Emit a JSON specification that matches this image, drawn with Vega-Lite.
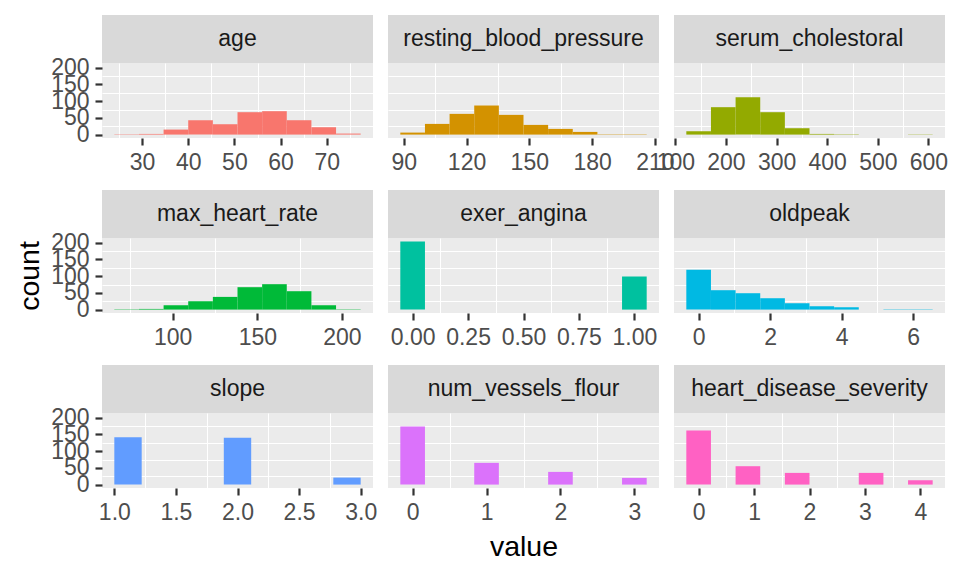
{
  "$schema": "https://vega.github.io/schema/vega-lite/v6.json",
  "background": "white",
  "padding": {"left": 15, "top": 15, "right": 5, "bottom": 5},
  "config": {
    "font": "Liberation Sans",
    "view": {"stroke": null},
    "axis": {"domain": false, "grid": true, "gridColor": "#FFFFFF", "gridWidth": 2.2, "gridOpacity": 1, "tickColor": "#333333", "tickWidth": 2.2, "tickSize": 7, "labelColor": "#4D4D4D", "labelFontSize": 23, "labelFont": "Liberation Sans", "labelPadding": 6, "labelOverlap": false, "labelFlush": false, "labelBound": false, "titleFont": "Liberation Sans", "titleFontSize": 28.5, "titleFontWeight": "normal", "titleColor": "#000000"}
  },
  "datasets": {
    "strips": [
      {"v": "age"}, {"v": "resting_blood_pressure"}, {"v": "serum_cholestoral"},
      {"v": "max_heart_rate"}, {"v": "exer_angina"}, {"v": "oldpeak"},
      {"v": "slope"}, {"v": "num_vessels_flour"}, {"v": "heart_disease_severity"}
    ],
    "hist": [
      {"v": "age", "x0": 24, "x1": 29.3333, "n": 1},
      {"v": "age", "x0": 29.3333, "x1": 34.6667, "n": 2},
      {"v": "age", "x0": 34.6667, "x1": 40, "n": 15},
      {"v": "age", "x0": 40, "x1": 45.3333, "n": 43},
      {"v": "age", "x0": 45.3333, "x1": 50.6667, "n": 31},
      {"v": "age", "x0": 50.6667, "x1": 56, "n": 67},
      {"v": "age", "x0": 56, "x1": 61.3333, "n": 70},
      {"v": "age", "x0": 61.3333, "x1": 66.6667, "n": 43},
      {"v": "age", "x0": 66.6667, "x1": 72, "n": 22},
      {"v": "age", "x0": 72, "x1": 77.3333, "n": 3},
      {"v": "resting_blood_pressure", "x0": 88.3333, "x1": 100.1111, "n": 6},
      {"v": "resting_blood_pressure", "x0": 100.1111, "x1": 111.8889, "n": 32},
      {"v": "resting_blood_pressure", "x0": 111.8889, "x1": 123.6667, "n": 62},
      {"v": "resting_blood_pressure", "x0": 123.6667, "x1": 135.4444, "n": 87},
      {"v": "resting_blood_pressure", "x0": 135.4444, "x1": 147.2222, "n": 59},
      {"v": "resting_blood_pressure", "x0": 147.2222, "x1": 159, "n": 29},
      {"v": "resting_blood_pressure", "x0": 159, "x1": 170.7778, "n": 17},
      {"v": "resting_blood_pressure", "x0": 170.7778, "x1": 182.5556, "n": 8},
      {"v": "resting_blood_pressure", "x0": 182.5556, "x1": 194.3333, "n": 1},
      {"v": "resting_blood_pressure", "x0": 194.3333, "x1": 206.1111, "n": 1},
      {"v": "serum_cholestoral", "x0": 121.6667, "x1": 170.3333, "n": 10},
      {"v": "serum_cholestoral", "x0": 170.3333, "x1": 219, "n": 82},
      {"v": "serum_cholestoral", "x0": 219, "x1": 267.6667, "n": 112},
      {"v": "serum_cholestoral", "x0": 267.6667, "x1": 316.3333, "n": 67},
      {"v": "serum_cholestoral", "x0": 316.3333, "x1": 365, "n": 19},
      {"v": "serum_cholestoral", "x0": 365, "x1": 413.6667, "n": 2},
      {"v": "serum_cholestoral", "x0": 413.6667, "x1": 462.3333, "n": 1},
      {"v": "serum_cholestoral", "x0": 559.6667, "x1": 608.3333, "n": 1},
      {"v": "max_heart_rate", "x0": 65.5, "x1": 80.0556, "n": 1},
      {"v": "max_heart_rate", "x0": 80.0556, "x1": 94.6111, "n": 2},
      {"v": "max_heart_rate", "x0": 94.6111, "x1": 109.1667, "n": 13},
      {"v": "max_heart_rate", "x0": 109.1667, "x1": 123.7222, "n": 25},
      {"v": "max_heart_rate", "x0": 123.7222, "x1": 138.2778, "n": 38},
      {"v": "max_heart_rate", "x0": 138.2778, "x1": 152.8333, "n": 67},
      {"v": "max_heart_rate", "x0": 152.8333, "x1": 167.3889, "n": 76},
      {"v": "max_heart_rate", "x0": 167.3889, "x1": 181.9444, "n": 55},
      {"v": "max_heart_rate", "x0": 181.9444, "x1": 196.5, "n": 13},
      {"v": "max_heart_rate", "x0": 196.5, "x1": 211.0556, "n": 1},
      {"v": "exer_angina", "x0": -0.0556, "x1": 0.0556, "n": 204},
      {"v": "exer_angina", "x0": 0.9444, "x1": 1.0556, "n": 99},
      {"v": "oldpeak", "x0": -0.3444, "x1": 0.3444, "n": 119},
      {"v": "oldpeak", "x0": 0.3444, "x1": 1.0333, "n": 58},
      {"v": "oldpeak", "x0": 1.0333, "x1": 1.7222, "n": 49},
      {"v": "oldpeak", "x0": 1.7222, "x1": 2.4111, "n": 34},
      {"v": "oldpeak", "x0": 2.4111, "x1": 3.1, "n": 19},
      {"v": "oldpeak", "x0": 3.1, "x1": 3.7889, "n": 10},
      {"v": "oldpeak", "x0": 3.7889, "x1": 4.4778, "n": 7},
      {"v": "oldpeak", "x0": 5.1667, "x1": 5.8556, "n": 1},
      {"v": "oldpeak", "x0": 5.8556, "x1": 6.5444, "n": 1},
      {"v": "slope", "x0": 1, "x1": 1.2222, "n": 142},
      {"v": "slope", "x0": 1.8889, "x1": 2.1111, "n": 140},
      {"v": "slope", "x0": 2.7778, "x1": 3, "n": 21},
      {"v": "num_vessels_flour", "x0": -0.1667, "x1": 0.1667, "n": 174},
      {"v": "num_vessels_flour", "x0": 0.8333, "x1": 1.1667, "n": 65},
      {"v": "num_vessels_flour", "x0": 1.8333, "x1": 2.1667, "n": 38},
      {"v": "num_vessels_flour", "x0": 2.8333, "x1": 3.1667, "n": 20},
      {"v": "heart_disease_severity", "x0": -0.2222, "x1": 0.2222, "n": 162},
      {"v": "heart_disease_severity", "x0": 0.6667, "x1": 1.1111, "n": 55},
      {"v": "heart_disease_severity", "x0": 1.5556, "x1": 2, "n": 35},
      {"v": "heart_disease_severity", "x0": 2.8889, "x1": 3.3333, "n": 35},
      {"v": "heart_disease_severity", "x0": 3.7778, "x1": 4.2222, "n": 13}
    ]
  },
  "columns": 3,
  "align": "each",
  "bounds": "flush",
  "spacing": {"row": 0, "column": 15},
  "concat": [
    {"width": 271, "height": 48, "view": {"fill": "#D9D9D9", "stroke": null}, "data": {"name": "strips"}, "transform": [{"filter": "datum.v === 'age'"}], "mark": {"type": "text", "fontSize": 23, "color": "#1A1A1A", "align": "center", "baseline": "middle"}, "encoding": {"text": {"field": "v", "type": "nominal"}}},
    {"width": 271, "height": 48, "view": {"fill": "#D9D9D9", "stroke": null}, "data": {"name": "strips"}, "transform": [{"filter": "datum.v === 'resting_blood_pressure'"}], "mark": {"type": "text", "fontSize": 23, "color": "#1A1A1A", "align": "center", "baseline": "middle"}, "encoding": {"text": {"field": "v", "type": "nominal"}}},
    {"width": 271, "height": 48, "view": {"fill": "#D9D9D9", "stroke": null}, "data": {"name": "strips"}, "transform": [{"filter": "datum.v === 'serum_cholestoral'"}], "mark": {"type": "text", "fontSize": 23, "color": "#1A1A1A", "align": "center", "baseline": "middle"}, "encoding": {"text": {"field": "v", "type": "nominal"}}},

    {"width": 271, "height": 75, "view": {"fill": "#EBEBEB", "stroke": null}, "data": {"name": "hist"}, "transform": [{"filter": "datum.v === 'age'"}],
     "resolve": {"axis": {"x": "independent", "y": "independent"}},
     "layer": [
      {"mark": {"type": "rect", "opacity": 0}, "encoding": {
        "x": {"field": "x0", "type": "quantitative", "scale": {"domain": [21.3333, 80], "nice": false, "zero": false}, "axis": {"orient": "top", "values": [25, 35, 45, 55, 65, 75], "gridWidth": 1.1, "labels": false, "ticks": false, "title": null}},
        "x2": {"field": "x1"},
        "y": {"field": "n", "type": "quantitative", "scale": {"domain": [-10.2, 214.2], "nice": false, "zero": false}, "axis": {"orient": "right", "values": [25, 75, 125, 175], "gridWidth": 1.1, "labels": false, "ticks": false, "title": null}},
        "y2": {"datum": 0}}},
      {"mark": {"type": "rect", "color": "#F8766D"}, "encoding": {
        "x": {"field": "x0", "type": "quantitative", "axis": {"orient": "bottom", "values": [30, 40, 50, 60, 70], "title": null}},
        "x2": {"field": "x1"},
        "y": {"field": "n", "type": "quantitative", "axis": {"orient": "left", "values": [0, 50, 100, 150, 200], "title": null}},
        "y2": {"datum": 0}}}
     ]},
    {"width": 271, "height": 75, "view": {"fill": "#EBEBEB", "stroke": null}, "data": {"name": "hist"}, "transform": [{"filter": "datum.v === 'resting_blood_pressure'"}],
     "resolve": {"axis": {"x": "independent", "y": "independent"}},
     "layer": [
      {"mark": {"type": "rect", "opacity": 0}, "encoding": {
        "x": {"field": "x0", "type": "quantitative", "scale": {"domain": [82.4444, 212], "nice": false, "zero": false}, "axis": {"orient": "top", "values": [105, 135, 165, 195], "gridWidth": 1.1, "labels": false, "ticks": false, "title": null}},
        "x2": {"field": "x1"},
        "y": {"field": "n", "type": "quantitative", "scale": {"domain": [-10.2, 214.2], "nice": false, "zero": false}, "axis": {"orient": "right", "values": [25, 75, 125, 175], "gridWidth": 1.1, "labels": false, "ticks": false, "title": null}},
        "y2": {"datum": 0}}},
      {"mark": {"type": "rect", "color": "#D39200"}, "encoding": {
        "x": {"field": "x0", "type": "quantitative", "axis": {"orient": "bottom", "values": [90, 120, 150, 180, 210], "title": null}},
        "x2": {"field": "x1"},
        "y": {"field": "n", "type": "quantitative", "axis": {"orient": "left", "values": [0, 50, 100, 150, 200], "labels": false, "ticks": false, "title": null}},
        "y2": {"datum": 0}}}
     ]},
    {"width": 271, "height": 75, "view": {"fill": "#EBEBEB", "stroke": null}, "data": {"name": "hist"}, "transform": [{"filter": "datum.v === 'serum_cholestoral'"}],
     "resolve": {"axis": {"x": "independent", "y": "independent"}},
     "layer": [
      {"mark": {"type": "rect", "opacity": 0}, "encoding": {
        "x": {"field": "x0", "type": "quantitative", "scale": {"domain": [97.3333, 632.6667], "nice": false, "zero": false}, "axis": {"orient": "top", "values": [150, 250, 350, 450, 550], "gridWidth": 1.1, "labels": false, "ticks": false, "title": null}},
        "x2": {"field": "x1"},
        "y": {"field": "n", "type": "quantitative", "scale": {"domain": [-10.2, 214.2], "nice": false, "zero": false}, "axis": {"orient": "right", "values": [25, 75, 125, 175], "gridWidth": 1.1, "labels": false, "ticks": false, "title": null}},
        "y2": {"datum": 0}}},
      {"mark": {"type": "rect", "color": "#93AA00"}, "encoding": {
        "x": {"field": "x0", "type": "quantitative", "axis": {"orient": "bottom", "values": [100, 200, 300, 400, 500, 600], "title": null}},
        "x2": {"field": "x1"},
        "y": {"field": "n", "type": "quantitative", "axis": {"orient": "left", "values": [0, 50, 100, 150, 200], "labels": false, "ticks": false, "title": null}},
        "y2": {"datum": 0}}}
     ]},

    {"width": 271, "height": 52, "data": {"values": []}, "mark": {"type": "point", "opacity": 0}},
    {"width": 271, "height": 52, "data": {"values": []}, "mark": {"type": "point", "opacity": 0}},
    {"width": 271, "height": 52, "data": {"values": []}, "mark": {"type": "point", "opacity": 0}},

    {"width": 271, "height": 48, "view": {"fill": "#D9D9D9", "stroke": null}, "data": {"name": "strips"}, "transform": [{"filter": "datum.v === 'max_heart_rate'"}], "mark": {"type": "text", "fontSize": 23, "color": "#1A1A1A", "align": "center", "baseline": "middle"}, "encoding": {"text": {"field": "v", "type": "nominal"}}},
    {"width": 271, "height": 48, "view": {"fill": "#D9D9D9", "stroke": null}, "data": {"name": "strips"}, "transform": [{"filter": "datum.v === 'exer_angina'"}], "mark": {"type": "text", "fontSize": 23, "color": "#1A1A1A", "align": "center", "baseline": "middle"}, "encoding": {"text": {"field": "v", "type": "nominal"}}},
    {"width": 271, "height": 48, "view": {"fill": "#D9D9D9", "stroke": null}, "data": {"name": "strips"}, "transform": [{"filter": "datum.v === 'oldpeak'"}], "mark": {"type": "text", "fontSize": 23, "color": "#1A1A1A", "align": "center", "baseline": "middle"}, "encoding": {"text": {"field": "v", "type": "nominal"}}},

    {"width": 271, "height": 75, "view": {"fill": "#EBEBEB", "stroke": null}, "data": {"name": "hist"}, "transform": [{"filter": "datum.v === 'max_heart_rate'"}],
     "resolve": {"axis": {"x": "independent", "y": "independent"}},
     "layer": [
      {"mark": {"type": "rect", "opacity": 0}, "encoding": {
        "x": {"field": "x0", "type": "quantitative", "scale": {"domain": [58.2222, 218.3333], "nice": false, "zero": false}, "axis": {"orient": "top", "values": [75, 125, 175], "gridWidth": 1.1, "labels": false, "ticks": false, "title": null}},
        "x2": {"field": "x1"},
        "y": {"field": "n", "type": "quantitative", "scale": {"domain": [-10.2, 214.2], "nice": false, "zero": false}, "axis": {"orient": "right", "values": [25, 75, 125, 175], "gridWidth": 1.1, "labels": false, "ticks": false, "title": null}},
        "y2": {"datum": 0}}},
      {"mark": {"type": "rect", "color": "#00BA38"}, "encoding": {
        "x": {"field": "x0", "type": "quantitative", "axis": {"orient": "bottom", "values": [100, 150, 200], "title": null}},
        "x2": {"field": "x1"},
        "y": {"field": "n", "type": "quantitative", "axis": {"orient": "left", "values": [0, 50, 100, 150, 200], "title": "count", "titlePadding": 6}},
        "y2": {"datum": 0}}}
     ]},
    {"width": 271, "height": 75, "view": {"fill": "#EBEBEB", "stroke": null}, "data": {"name": "hist"}, "transform": [{"filter": "datum.v === 'exer_angina'"}],
     "resolve": {"axis": {"x": "independent", "y": "independent"}},
     "layer": [
      {"mark": {"type": "rect", "opacity": 0}, "encoding": {
        "x": {"field": "x0", "type": "quantitative", "scale": {"domain": [-0.1111, 1.1111], "nice": false, "zero": false}, "axis": {"orient": "top", "values": [0.125, 0.375, 0.625, 0.875], "gridWidth": 1.1, "labels": false, "ticks": false, "title": null}},
        "x2": {"field": "x1"},
        "y": {"field": "n", "type": "quantitative", "scale": {"domain": [-10.2, 214.2], "nice": false, "zero": false}, "axis": {"orient": "right", "values": [25, 75, 125, 175], "gridWidth": 1.1, "labels": false, "ticks": false, "title": null}},
        "y2": {"datum": 0}}},
      {"mark": {"type": "rect", "color": "#00C19F"}, "encoding": {
        "x": {"field": "x0", "type": "quantitative", "axis": {"orient": "bottom", "values": [0, 0.25, 0.5, 0.75, 1], "format": ".2f", "title": null}},
        "x2": {"field": "x1"},
        "y": {"field": "n", "type": "quantitative", "axis": {"orient": "left", "values": [0, 50, 100, 150, 200], "labels": false, "ticks": false, "title": null}},
        "y2": {"datum": 0}}}
     ]},
    {"width": 271, "height": 75, "view": {"fill": "#EBEBEB", "stroke": null}, "data": {"name": "hist"}, "transform": [{"filter": "datum.v === 'oldpeak'"}],
     "resolve": {"axis": {"x": "independent", "y": "independent"}},
     "layer": [
      {"mark": {"type": "rect", "opacity": 0}, "encoding": {
        "x": {"field": "x0", "type": "quantitative", "scale": {"domain": [-0.6889, 6.8889], "nice": false, "zero": false}, "axis": {"orient": "top", "values": [1, 3, 5], "gridWidth": 1.1, "labels": false, "ticks": false, "title": null}},
        "x2": {"field": "x1"},
        "y": {"field": "n", "type": "quantitative", "scale": {"domain": [-10.2, 214.2], "nice": false, "zero": false}, "axis": {"orient": "right", "values": [25, 75, 125, 175], "gridWidth": 1.1, "labels": false, "ticks": false, "title": null}},
        "y2": {"datum": 0}}},
      {"mark": {"type": "rect", "color": "#00B9E3"}, "encoding": {
        "x": {"field": "x0", "type": "quantitative", "axis": {"orient": "bottom", "values": [0, 2, 4, 6], "title": null}},
        "x2": {"field": "x1"},
        "y": {"field": "n", "type": "quantitative", "axis": {"orient": "left", "values": [0, 50, 100, 150, 200], "labels": false, "ticks": false, "title": null}},
        "y2": {"datum": 0}}}
     ]},

    {"width": 271, "height": 52, "data": {"values": []}, "mark": {"type": "point", "opacity": 0}},
    {"width": 271, "height": 52, "data": {"values": []}, "mark": {"type": "point", "opacity": 0}},
    {"width": 271, "height": 52, "data": {"values": []}, "mark": {"type": "point", "opacity": 0}},

    {"width": 271, "height": 48, "view": {"fill": "#D9D9D9", "stroke": null}, "data": {"name": "strips"}, "transform": [{"filter": "datum.v === 'slope'"}], "mark": {"type": "text", "fontSize": 23, "color": "#1A1A1A", "align": "center", "baseline": "middle"}, "encoding": {"text": {"field": "v", "type": "nominal"}}},
    {"width": 271, "height": 48, "view": {"fill": "#D9D9D9", "stroke": null}, "data": {"name": "strips"}, "transform": [{"filter": "datum.v === 'num_vessels_flour'"}], "mark": {"type": "text", "fontSize": 23, "color": "#1A1A1A", "align": "center", "baseline": "middle"}, "encoding": {"text": {"field": "v", "type": "nominal"}}},
    {"width": 271, "height": 48, "view": {"fill": "#D9D9D9", "stroke": null}, "data": {"name": "strips"}, "transform": [{"filter": "datum.v === 'heart_disease_severity'"}], "mark": {"type": "text", "fontSize": 23, "color": "#1A1A1A", "align": "center", "baseline": "middle"}, "encoding": {"text": {"field": "v", "type": "nominal"}}},

    {"width": 271, "height": 75, "view": {"fill": "#EBEBEB", "stroke": null}, "data": {"name": "hist"}, "transform": [{"filter": "datum.v === 'slope'"}],
     "resolve": {"axis": {"x": "independent", "y": "independent"}},
     "layer": [
      {"mark": {"type": "rect", "opacity": 0}, "encoding": {
        "x": {"field": "x0", "type": "quantitative", "scale": {"domain": [0.9, 3.1], "nice": false, "zero": false}, "axis": {"orient": "top", "values": [1.25, 1.75, 2.25, 2.75], "gridWidth": 1.1, "labels": false, "ticks": false, "title": null}},
        "x2": {"field": "x1"},
        "y": {"field": "n", "type": "quantitative", "scale": {"domain": [-10.2, 214.2], "nice": false, "zero": false}, "axis": {"orient": "right", "values": [25, 75, 125, 175], "gridWidth": 1.1, "labels": false, "ticks": false, "title": null}},
        "y2": {"datum": 0}}},
      {"mark": {"type": "rect", "color": "#619CFF"}, "encoding": {
        "x": {"field": "x0", "type": "quantitative", "axis": {"orient": "bottom", "values": [1, 1.5, 2, 2.5, 3], "format": ".1f", "title": null}},
        "x2": {"field": "x1"},
        "y": {"field": "n", "type": "quantitative", "axis": {"orient": "left", "values": [0, 50, 100, 150, 200], "title": null}},
        "y2": {"datum": 0}}}
     ]},
    {"width": 271, "height": 75, "view": {"fill": "#EBEBEB", "stroke": null}, "data": {"name": "hist"}, "transform": [{"filter": "datum.v === 'num_vessels_flour'"}],
     "resolve": {"axis": {"x": "independent", "y": "independent"}},
     "layer": [
      {"mark": {"type": "rect", "opacity": 0}, "encoding": {
        "x": {"field": "x0", "type": "quantitative", "scale": {"domain": [-0.3333, 3.3333], "nice": false, "zero": false}, "axis": {"orient": "top", "values": [0.5, 1.5, 2.5], "gridWidth": 1.1, "labels": false, "ticks": false, "title": null}},
        "x2": {"field": "x1"},
        "y": {"field": "n", "type": "quantitative", "scale": {"domain": [-10.2, 214.2], "nice": false, "zero": false}, "axis": {"orient": "right", "values": [25, 75, 125, 175], "gridWidth": 1.1, "labels": false, "ticks": false, "title": null}},
        "y2": {"datum": 0}}},
      {"mark": {"type": "rect", "color": "#DB72FB"}, "encoding": {
        "x": {"field": "x0", "type": "quantitative", "axis": {"orient": "bottom", "values": [0, 1, 2, 3], "title": "value", "titlePadding": 8}},
        "x2": {"field": "x1"},
        "y": {"field": "n", "type": "quantitative", "axis": {"orient": "left", "values": [0, 50, 100, 150, 200], "labels": false, "ticks": false, "title": null}},
        "y2": {"datum": 0}}}
     ]},
    {"width": 271, "height": 75, "view": {"fill": "#EBEBEB", "stroke": null}, "data": {"name": "hist"}, "transform": [{"filter": "datum.v === 'heart_disease_severity'"}],
     "resolve": {"axis": {"x": "independent", "y": "independent"}},
     "layer": [
      {"mark": {"type": "rect", "opacity": 0}, "encoding": {
        "x": {"field": "x0", "type": "quantitative", "scale": {"domain": [-0.4444, 4.4444], "nice": false, "zero": false}, "axis": {"orient": "top", "values": [0.5, 1.5, 2.5, 3.5], "gridWidth": 1.1, "labels": false, "ticks": false, "title": null}},
        "x2": {"field": "x1"},
        "y": {"field": "n", "type": "quantitative", "scale": {"domain": [-10.2, 214.2], "nice": false, "zero": false}, "axis": {"orient": "right", "values": [25, 75, 125, 175], "gridWidth": 1.1, "labels": false, "ticks": false, "title": null}},
        "y2": {"datum": 0}}},
      {"mark": {"type": "rect", "color": "#FF61C3"}, "encoding": {
        "x": {"field": "x0", "type": "quantitative", "axis": {"orient": "bottom", "values": [0, 1, 2, 3, 4], "title": null}},
        "x2": {"field": "x1"},
        "y": {"field": "n", "type": "quantitative", "axis": {"orient": "left", "values": [0, 50, 100, 150, 200], "labels": false, "ticks": false, "title": null}},
        "y2": {"datum": 0}}}
     ]}
  ]
}
